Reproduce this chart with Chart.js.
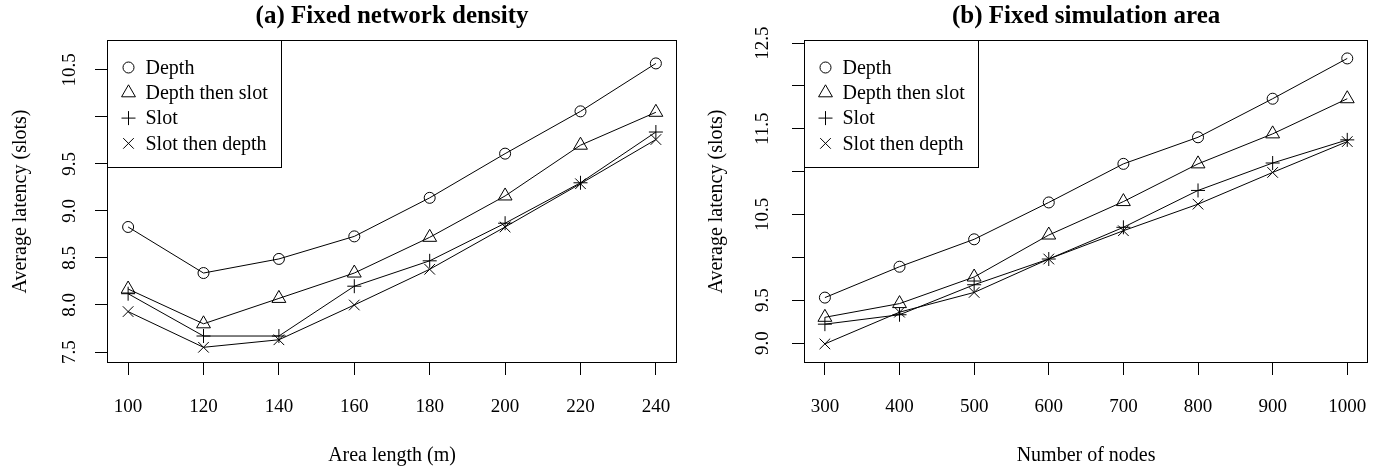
<!DOCTYPE html>
<html>
<head>
<meta charset="utf-8">
<script src="https://cdn.jsdelivr.net/npm/chart.js@4/dist/chart.umd.min.js"></script>
<style>
  body { margin: 0; background: #fff; }
  .panel { position: absolute; top: 0; width: 694px; height: 466px; }
</style>
</head>
<body>
<div class="panel" style="left:0"><canvas id="chartA" width="694" height="466"></canvas></div>
<div class="panel" style="left:694px"><canvas id="chartB" width="694" height="466"></canvas></div>
<script>
const seriesNames = ['Depth', 'Depth then slot', 'Slot', 'Slot then depth'];
const pointStyles = ['circle', 'triangle', 'cross', 'crossRot'];
const pointSizes = [5.5, 8, 7, 7.5];

// (a) fixed network density
const areaLength = [100, 120, 140, 160, 180, 200, 220, 240];
const depthA = [8.83, 8.34, 8.49, 8.73, 9.14, 9.61, 10.06, 10.57];
const depthSlotA = [8.17, 7.80, 8.07, 8.34, 8.72, 9.16, 9.70, 10.05];
const slotA = [8.12, 7.67, 7.67, 8.20, 8.47, 8.87, 9.30, 9.84];
const slotDepthA = [7.93, 7.55, 7.63, 8.00, 8.38, 8.83, 9.29, 9.76];
const yTicksA = [7.5, 8.0, 8.5, 9.0, 9.5, 10.0, 10.5];
const yLabelsA = ['7.5', '8.0', '8.5', '9.0', '9.5', '', '10.5'];

// (b) fixed simulation area
const nodeCount = [300, 400, 500, 600, 700, 800, 900, 1000];
const depthB = [9.53, 9.89, 10.21, 10.64, 11.09, 11.40, 11.85, 12.32];
const depthSlotB = [9.30, 9.46, 9.77, 10.26, 10.65, 11.09, 11.44, 11.85];
const slotB = [9.22, 9.33, 9.68, 9.98, 10.35, 10.78, 11.10, 11.37];
const slotDepthB = [8.99, 9.36, 9.59, 9.98, 10.31, 10.62, 10.99, 11.35];
const yTicksB = [9.0, 9.5, 10.0, 10.5, 11.0, 11.5, 12.0, 12.5];
const yLabelsB = ['9.0', '9.5', '', '10.5', '', '11.5', '', '12.5'];

const serif = '"Liberation Serif", "DejaVu Serif", serif';

// plot frame + R style legend in the top-left corner
const frameAndLegend = {
  id: 'frameAndLegend',
  afterDatasetsDraw(chart) {
    const { ctx, chartArea: a } = chart;
    ctx.save();
    ctx.strokeStyle = '#000';
    ctx.lineWidth = 1;
    ctx.strokeRect(Math.round(a.left) + 0.5, Math.round(a.top) + 0.5,
      Math.round(a.width) - 1, Math.round(a.height) - 1);

    ctx.font = '20px ' + serif;
    const textW = Math.max(...seriesNames.map(n => ctx.measureText(n).width));
    const bx = Math.round(a.left) + 0.5, by = Math.round(a.top) + 0.5;
    const bw = Math.round(38 + textW + 14), bh = 127;
    ctx.fillStyle = '#fff';
    ctx.fillRect(bx, by, bw, bh);
    ctx.strokeRect(bx, by, bw, bh);
    chart.data.datasets.forEach((ds, i) => {
      const y = by + 27 + i * 25.3;
      ctx.fillStyle = 'rgba(0,0,0,0)';
      ctx.strokeStyle = '#000';
      Chart.helpers.drawPoint(ctx, { pointStyle: ds.pointStyle, radius: ds.pointRadius, borderWidth: 1, rotation: 0 }, bx + 21, y);
      ctx.fillStyle = '#000';
      ctx.textBaseline = 'middle';
      ctx.textAlign = 'left';
      ctx.fillText(ds.label, bx + 38, y + 1);
    });
    ctx.restore();
  }
};

function makeDatasets(xs, seriesList) {
  return seriesList.map((vals, i) => ({
    label: seriesNames[i],
    data: xs.map((x, j) => ({ x: x, y: vals[j] })),
    borderColor: '#000',
    borderWidth: 1,
    pointStyle: pointStyles[i],
    pointRadius: pointSizes[i],
    pointBorderColor: '#000',
    pointBackgroundColor: 'rgba(0,0,0,0)',
    pointBorderWidth: 1,
    tension: 0,
    fill: false
  }));
}

function makeChart(id, cfg) {
  new Chart(document.getElementById(id), {
    type: 'line',
    data: { datasets: makeDatasets(cfg.xs, cfg.series) },
    plugins: [frameAndLegend],
    options: {
      responsive: false,
      animation: false,
      layout: { padding: { left: 0, right: cfg.rightPad, top: 0, bottom: 0 } },
      plugins: {
        legend: { display: false },
        tooltip: { enabled: false },
        title: {
          display: true,
          text: cfg.title,
          fullSize: false,
          color: '#000',
          font: { family: serif, size: 25, weight: 'bold', lineHeight: 1.1 },
          padding: { top: 3, bottom: 9.5 }
        }
      },
      scales: {
        x: {
          type: 'linear',
          min: cfg.xMin,
          max: cfg.xMax,
          afterBuildTicks: axis => { axis.ticks = cfg.xs.map(v => ({ value: v })); },
          afterFit: scale => { scale.height = 103; },
          grid: { drawOnChartArea: false, drawTicks: true, tickLength: 12, color: '#000' },
          border: { display: false },
          ticks: {
            color: '#000', font: { family: serif, size: 19 }, padding: 21, maxRotation: 0, autoSkip: false,
            callback: v => String(v)
          },
          title: { display: true, text: cfg.xTitle, color: '#000', font: { family: serif, size: 20, lineHeight: 1 }, padding: { top: 0, bottom: 0 } }
        },
        y: {
          type: 'linear',
          min: cfg.yMin,
          max: cfg.yMax,
          afterBuildTicks: axis => { axis.ticks = cfg.yTicks.map(v => ({ value: v })); },
          afterFit: scale => { scale.width = cfg.yWidth; },
          grid: { drawOnChartArea: false, drawTicks: true, tickLength: 12, color: '#000' },
          border: { display: false },
          ticks: {
            color: '#000', font: { family: serif, size: 19 }, padding: cfg.yTickPad,
            minRotation: 90, maxRotation: 90, crossAlign: 'center', autoSkip: false,
            callback: (v, i) => cfg.yLabels[i]
          },
          title: { display: true, text: 'Average latency (slots)', color: '#000', font: { family: serif, size: 20, lineHeight: 1 }, padding: { top: cfg.yTitlePad, bottom: 0 } }
        }
      }
    }
  });
}

makeChart('chartA', {
  xs: areaLength,
  series: [depthA, depthSlotA, slotA, slotDepthA],
  title: '(a) Fixed network density',
  xTitle: 'Area length (m)',
  xMin: 94.4, xMax: 245.6,
  yMin: 7.383, yMax: 10.819,
  yTicks: yTicksA, yLabels: yLabelsA,
  yWidth: 107, rightPad: 17, yTickPad: 8, yTitlePad: 11
});

makeChart('chartB', {
  xs: nodeCount,
  series: [depthB, depthSlotB, slotB, slotDepthB],
  title: '(b) Fixed simulation area',
  xTitle: 'Number of nodes',
  xMin: 272, xMax: 1028,
  yMin: 8.767, yMax: 12.535,
  yTicks: yTicksB, yLabels: yLabelsB,
  yWidth: 110, rightPad: 14, yTickPad: 12, yTitlePad: 13
});
</script>
</body>
</html>
